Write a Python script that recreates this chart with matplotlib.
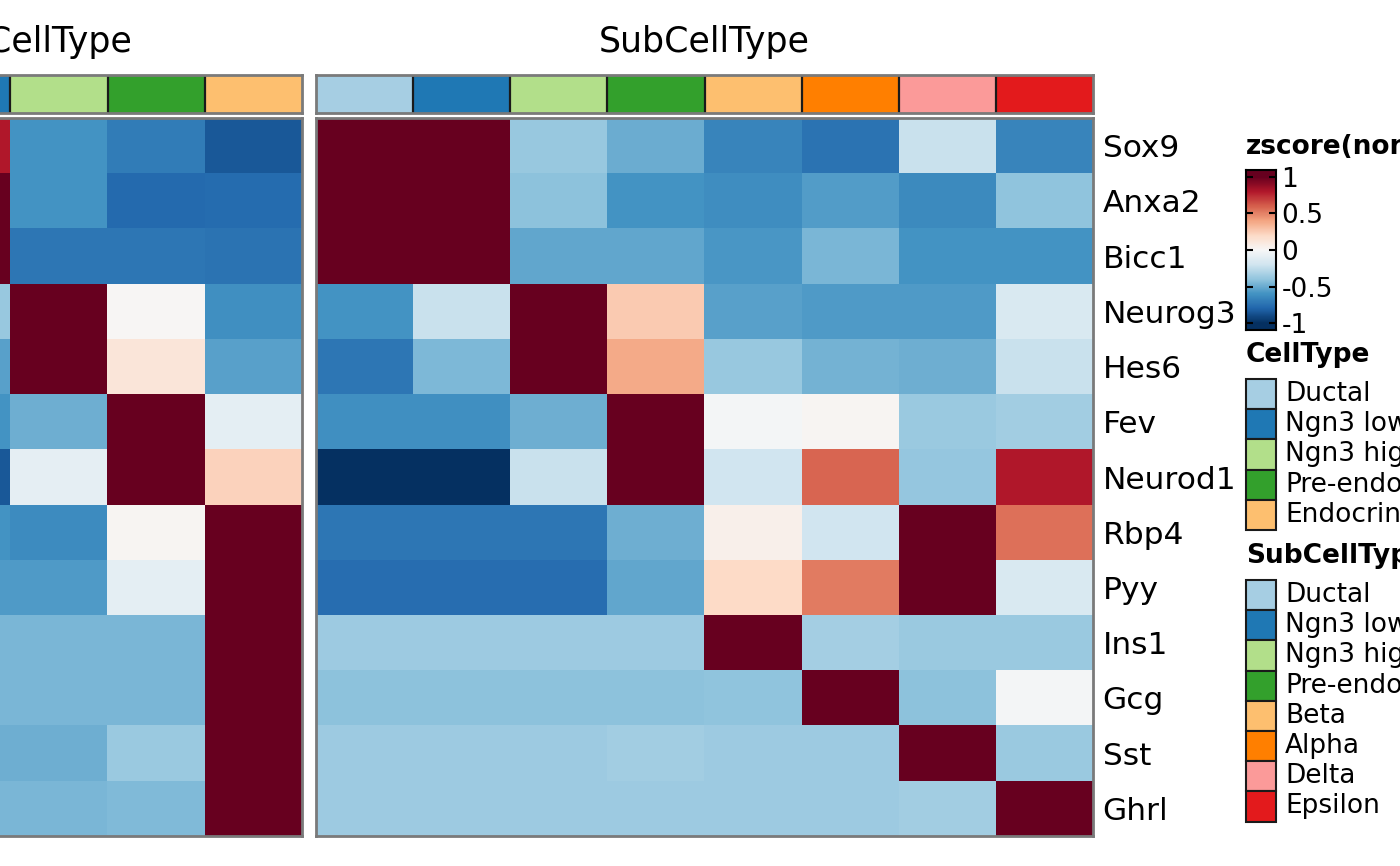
import numpy as np
import matplotlib.pyplot as plt
from matplotlib.colors import ListedColormap
from matplotlib.patches import Rectangle


# genes (rows) and the two groupings (columns)
genes = ['Sox9', 'Anxa2', 'Bicc1', 'Neurog3', 'Hes6', 'Fev', 'Neurod1',
         'Rbp4', 'Pyy', 'Ins1', 'Gcg', 'Sst', 'Ghrl']
celltypes = ['Ductal', 'Ngn3 low', 'Ngn3 high', 'Pre-endocrine', 'Endocrine']
subcelltypes = ['Ductal', 'Ngn3 low', 'Ngn3 high', 'Pre-endocrine',
                'Beta', 'Alpha', 'Delta', 'Epsilon']
celltype_colors = ['#a6cee3', '#1f78b4', '#b2df8a', '#33a02c', '#fdbf6f']
subcell_colors = ['#a6cee3', '#1f78b4', '#b2df8a', '#33a02c',
                  '#fdbf6f', '#ff7f00', '#fb9a99', '#e31a1c']

# zscore values (clipped to [-1, 1] by the colour scale)
celltype_z = np.array([
    [1.00, 0.80, -0.60, -0.70, -0.85],
    [1.00, 1.00, -0.60, -0.78, -0.77],
    [1.00, 1.00, -0.72, -0.72, -0.74],
    [-0.60, -0.38, 1.00, 0.01, -0.61],
    [-0.72, -0.54, 1.00, 0.12, -0.54],
    [-0.61, -0.60, -0.49, 1.00, -0.10],
    [-1.00, -0.85, -0.09, 1.00, 0.23],
    [-0.72, -0.60, -0.63, 0.02, 1.00],
    [-0.76, -0.57, -0.57, -0.10, 1.00],
    [-0.36, -0.46, -0.46, -0.46, 1.00],
    [-0.41, -0.46, -0.46, -0.46, 1.00],
    [-0.36, -0.49, -0.49, -0.37, 1.00],
    [-0.36, -0.46, -0.46, -0.44, 1.00],
])
subcell_z = np.array([
    [1.00, 1.00, -0.38, -0.50, -0.66, -0.74, -0.22, -0.66],
    [1.00, 1.00, -0.41, -0.60, -0.62, -0.56, -0.64, -0.40],
    [1.00, 1.00, -0.52, -0.52, -0.58, -0.46, -0.60, -0.60],
    [-0.60, -0.22, 1.00, 0.26, -0.54, -0.57, -0.57, -0.15],
    [-0.72, -0.45, 1.00, 0.38, -0.38, -0.47, -0.49, -0.22],
    [-0.61, -0.61, -0.49, 1.00, -0.02, 0.02, -0.37, -0.35],
    [-1.00, -1.00, -0.22, 1.00, -0.20, 0.58, -0.39, 0.80],
    [-0.72, -0.72, -0.72, -0.49, 0.05, -0.20, 1.00, 0.55],
    [-0.76, -0.76, -0.76, -0.52, 0.20, 0.52, 1.00, -0.15],
    [-0.36, -0.36, -0.36, -0.36, 1.00, -0.34, -0.37, -0.37],
    [-0.41, -0.41, -0.41, -0.41, -0.40, 1.00, -0.41, -0.02],
    [-0.36, -0.36, -0.36, -0.35, -0.36, -0.36, 1.00, -0.37],
    [-0.36, -0.36, -0.36, -0.36, -0.36, -0.36, -0.35, 1.00],
])


W, H = 1400, 866
fig = plt.figure(figsize=(14, 8.66), dpi=100)
frame = '#7a7a7a'


def px_axes(x0, y0, x1, y1):
    # axes placed in pixel coords (top-left origin)
    return fig.add_axes([x0 / W, 1 - y1 / H, (x1 - x0) / W, (y1 - y0) / H])


def draw_panel(x0, x1, z, colors, title, labels_right):
    # annotation bar
    bar = px_axes(x0, 75, x1, 113)
    n = len(colors)
    bar.imshow(np.arange(n)[None, :], cmap=ListedColormap(colors),
               aspect='auto', interpolation='nearest', vmin=0, vmax=n - 1)
    for i in range(1, n):
        bar.axvline(i - 0.5, color='#1a1a1a', lw=1.6)
    bar.set_xticks([])
    bar.set_yticks([])
    for s in bar.spines.values():
        s.set_color(frame)
        s.set_linewidth(2)

    # heatmap
    ax = px_axes(x0, 118, x1, 836)
    ax.imshow(z, cmap='RdBu_r', vmin=-1, vmax=1, aspect='auto',
              interpolation='nearest')
    ax.set_xticks([])
    if labels_right:
        ax.yaxis.tick_right()
        ax.set_yticks(range(len(genes)))
        ax.set_yticklabels(genes, fontsize=22.5)
        ax.tick_params(axis='y', length=0, pad=7)
    else:
        ax.set_yticks([])
    for s in ax.spines.values():
        s.set_color(frame)
        s.set_linewidth(2)

    fig.text((x0 + x1) / 2 / W, 1 - 42 / H, title, ha='center',
             va='center', fontsize=25)


draw_panel(-184, 302, celltype_z, celltype_colors, 'CellType', False)
draw_panel(316, 1093, subcell_z, subcell_colors, 'SubCellType', True)


# colour bar
cax = px_axes(1246, 170, 1276, 330)
ext = 1.09
grad = np.linspace(ext, -ext, 300)[:, None]
cax.imshow(grad, cmap='RdBu_r', vmin=-1, vmax=1, aspect='auto',
           extent=[0, 1, -ext, ext])
cax.set_ylim(-ext, ext)
cax.set_xticks([])
cax.yaxis.tick_right()
cax.set_yticks([1, 0.5, 0, -0.5, -1])
cax.set_yticklabels(['1', '0.5', '0', '-0.5', '-1'], fontsize=19)
cax.tick_params(axis='y', direction='in', left=True, right=True,
                length=5, width=1.5, pad=4)
for s in cax.spines.values():
    s.set_linewidth(1.5)

# legends drawn on an overlay in pixel coords
lax = fig.add_axes([0, 0, 1, 1])
lax.set_xlim(0, W)
lax.set_ylim(H, 0)
lax.axis('off')

lax.text(1246, 147, 'zscore(normalized)', fontsize=19, fontweight='bold',
         va='center', ha='left')


def draw_legend(top, title, names, colors):
    lax.text(1246, top, title, fontsize=19, fontweight='bold',
             va='center', ha='left')
    y = top + 24
    for name, c in zip(names, colors):
        lax.add_patch(Rectangle((1246, y), 30, 30.2, facecolor=c,
                                edgecolor='#1a1a1a', lw=1.5))
        lax.text(1285, y + 15, name, fontsize=19, va='center', ha='left')
        y += 30.2


draw_legend(355, 'CellType', celltypes, celltype_colors)
draw_legend(556, 'SubCellType', subcelltypes, subcell_colors)

plt.savefig('out.png', dpi=100)
